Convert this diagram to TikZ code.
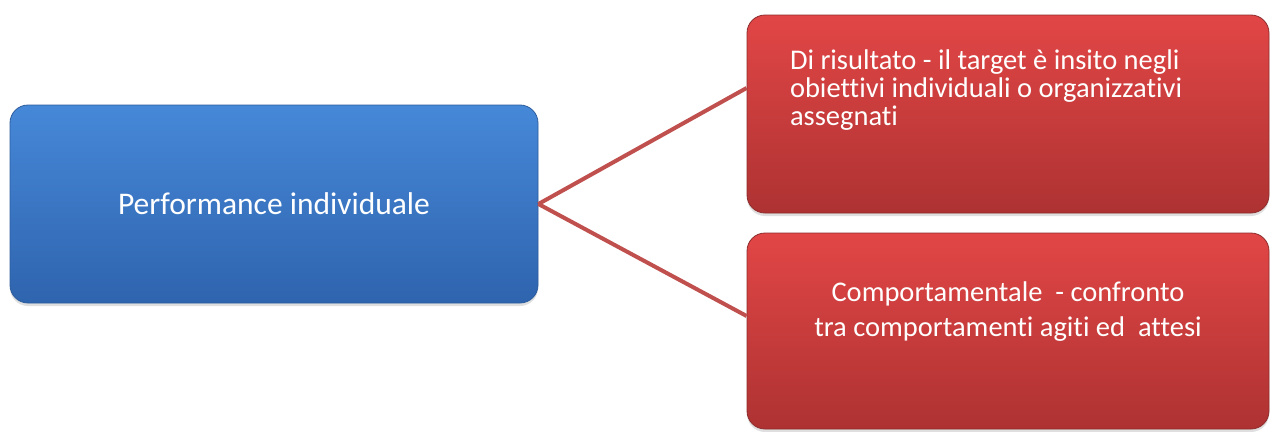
\documentclass[tikz,border=0pt]{standalone}
\usepackage{fontspec}
\setmainfont[Ligatures=CommonOff]{Carlito}
\usetikzlibrary{shadows}
\definecolor{bluetop}{HTML}{4688D8}
\definecolor{bluebot}{HTML}{2F64AE}
\definecolor{blueedge}{HTML}{2C5C9C}
\definecolor{redtop}{HTML}{E24646}
\definecolor{redbot}{HTML}{AE3232}
\definecolor{rededge}{HTML}{8E2C2C}
\definecolor{linkred}{HTML}{C0504D}
\begin{document}
\begin{tikzpicture}[x=1pt, y=-1pt,
    bluebox/.style={rounded corners=18pt, draw=blueedge, line width=0.8pt,
        top color=bluetop, bottom color=bluebot, text=white,
        drop shadow={opacity=0.25, shadow xshift=0pt, shadow yshift=-3pt},
        minimum width=528pt, minimum height=198pt, inner sep=0pt,
        font=\fontsize{31.5}{36}\selectfont},
    redbox/.style={rounded corners=18pt, draw=rededge, line width=0.8pt,
        top color=redtop, bottom color=redbot, text=white,
        drop shadow={opacity=0.25, shadow xshift=0pt, shadow yshift=-3pt},
        minimum width=522pt, inner sep=0pt,
        font=\fontsize{28.5}{28}\selectfont},
    link/.style={draw=linkred, line width=4pt}]
    \useasboundingbox (0,0) rectangle (1274,431);

    % 定义方框
    \node[bluebox] (perf) at (274,204) {Performance individuale};
    \node[redbox, minimum height=198pt] (ris) at (1008,114)
        {\parbox[c][198pt][t]{522pt}{\vspace*{35pt}\hspace*{43pt}%
        \parbox[t]{460pt}{\raggedright\baselineskip=28pt
        Di risultato - il target è insito negli\\
        obiettivi individuali o organizzativi\\
        assegnati}}};
    \node[redbox, minimum height=196pt] (comp) at (1008,331)
        {\parbox[c][196pt][t]{522pt}{\vspace*{49pt}\centering\baselineskip=35pt
        Comportamentale~ - confronto\\
        tra comportamenti agiti ed~ attesi}};

    % 连接线
    \draw[link] (perf.east) -- ([yshift=26pt]ris.west);
    \draw[link] (perf.east) -- ([yshift=15pt]comp.west);
\end{tikzpicture}
\end{document}
